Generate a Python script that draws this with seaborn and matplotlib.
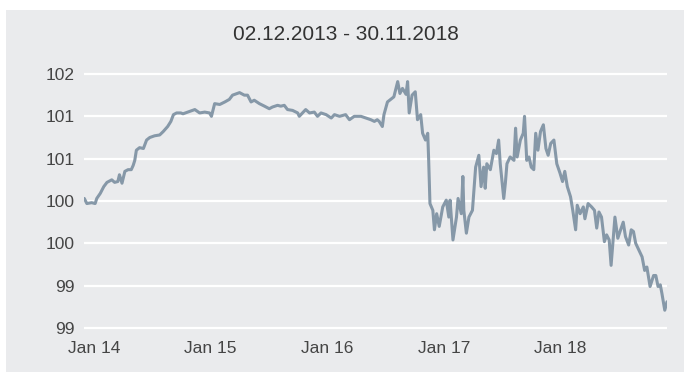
import matplotlib
matplotlib.use('Agg')
import matplotlib.pyplot as plt
from matplotlib.patches import Rectangle
import seaborn as sns
import pandas as pd

# values
dates = [
    '2013-12-02', '2013-12-10', '2013-12-25', '2014-01-05', '2014-01-10', '2014-01-21', '2014-02-01', '2014-02-11', '2014-02-26', '2014-03-07',
    '2014-03-17', '2014-03-22', '2014-03-30', '2014-04-08', '2014-04-18', '2014-04-28', '2014-05-04', '2014-05-09', '2014-05-14', '2014-05-24',
    '2014-06-05', '2014-06-15', '2014-06-25', '2014-07-10', '2014-07-26', '2014-08-06', '2014-08-20', '2014-08-30', '2014-09-07', '2014-09-17',
    '2014-09-30', '2014-10-07', '2014-10-22', '2014-11-13', '2014-11-28', '2014-12-14', '2014-12-29', '2015-01-04', '2015-01-14', '2015-01-30',
    '2015-02-15', '2015-03-01', '2015-03-11', '2015-03-26', '2015-04-02', '2015-04-17', '2015-04-27', '2015-05-08', '2015-05-18', '2015-06-03',
    '2015-06-19', '2015-07-04', '2015-07-14', '2015-07-30', '2015-08-09', '2015-08-20', '2015-08-30', '2015-09-15', '2015-10-01', '2015-10-06',
    '2015-10-16', '2015-10-26', '2015-11-07', '2015-11-22', '2015-12-02', '2015-12-13', '2015-12-29', '2016-01-14', '2016-01-24', '2016-02-09',
    '2016-02-28', '2016-03-11', '2016-03-26', '2016-04-16', '2016-05-02', '2016-05-17', '2016-05-28', '2016-06-06', '2016-06-12', '2016-06-22',
    '2016-06-27', '2016-07-08', '2016-07-18', '2016-07-28', '2016-08-09', '2016-08-16', '2016-08-24', '2016-09-04', '2016-09-09', '2016-09-14',
    '2016-09-23', '2016-10-03', '2016-10-10', '2016-10-20', '2016-10-26', '2016-11-04', '2016-11-11', '2016-11-14', '2016-11-18', '2016-11-27',
    '2016-12-02', '2016-12-09', '2016-12-17', '2016-12-28', '2017-01-08', '2017-01-16', '2017-01-20', '2017-01-29', '2017-02-09', '2017-02-14',
    '2017-02-24', '2017-03-01', '2017-03-04', '2017-03-12', '2017-03-20', '2017-03-31', '2017-04-10', '2017-04-20', '2017-04-27', '2017-05-05',
    '2017-05-10', '2017-05-15', '2017-05-26', '2017-06-06', '2017-06-14', '2017-06-21', '2017-06-26', '2017-07-02', '2017-07-07', '2017-07-12',
    '2017-07-17', '2017-07-27', '2017-08-08', '2017-08-13', '2017-08-18', '2017-08-28', '2017-09-06', '2017-09-10', '2017-09-17', '2017-09-24',
    '2017-10-01', '2017-10-09', '2017-10-15', '2017-10-22', '2017-10-30', '2017-11-08', '2017-11-16', '2017-11-23', '2017-12-01', '2017-12-11',
    '2017-12-20', '2017-12-30', '2018-01-07', '2018-01-14', '2018-01-22', '2018-02-01', '2018-02-08', '2018-02-17', '2018-02-22', '2018-03-03',
    '2018-03-13', '2018-03-18', '2018-03-28', '2018-04-08', '2018-04-17', '2018-04-24', '2018-05-01', '2018-05-09', '2018-05-18', '2018-05-25',
    '2018-06-02', '2018-06-08', '2018-06-15', '2018-06-20', '2018-06-29', '2018-07-06', '2018-07-16', '2018-07-23', '2018-08-02', '2018-08-10',
    '2018-08-17', '2018-08-24', '2018-09-03', '2018-09-13', '2018-09-21', '2018-09-28', '2018-10-08', '2018-10-19', '2018-10-26', '2018-11-02',
    '2018-11-09', '2018-11-14', '2018-11-23', '2018-11-30']

values = [
    100.53, 100.47, 100.48, 100.47, 100.53, 100.59, 100.67, 100.72, 100.75, 100.72,
    100.73, 100.81, 100.71, 100.85, 100.87, 100.87, 100.92, 100.98, 101.10, 101.13,
    101.12, 101.22, 101.25, 101.27, 101.28, 101.32, 101.38, 101.44, 101.52, 101.54,
    101.54, 101.53, 101.55, 101.58, 101.54, 101.55, 101.54, 101.50, 101.65, 101.64,
    101.67, 101.70, 101.75, 101.77, 101.78, 101.75, 101.75, 101.67, 101.69, 101.65,
    101.62, 101.59, 101.61, 101.63, 101.62, 101.63, 101.58, 101.57, 101.54, 101.50,
    101.54, 101.58, 101.54, 101.55, 101.50, 101.54, 101.52, 101.48, 101.52, 101.50,
    101.52, 101.46, 101.50, 101.50, 101.48, 101.46, 101.44, 101.46, 101.44, 101.38,
    101.52, 101.67, 101.70, 101.73, 101.91, 101.77, 101.83, 101.76, 101.91, 101.54,
    101.75, 101.79, 101.46, 101.52, 101.30, 101.22, 101.30, 100.98, 100.47, 100.39,
    100.16, 100.35, 100.20, 100.43, 100.51, 100.31, 100.51, 100.04, 100.31, 100.53,
    100.35, 100.79, 100.39, 100.12, 100.31, 100.39, 100.90, 101.04, 100.67, 100.90,
    100.65, 100.94, 100.87, 101.10, 101.06, 101.22, 100.94, 100.71, 100.53, 100.71,
    100.94, 101.02, 100.98, 101.36, 101.02, 101.22, 101.30, 101.50, 100.98, 101.02,
    100.90, 100.87, 101.30, 101.10, 101.32, 101.40, 101.12, 101.04, 101.18, 101.22,
    100.94, 100.83, 100.73, 100.85, 100.67, 100.55, 100.39, 100.16, 100.45, 100.35,
    100.43, 100.29, 100.47, 100.43, 100.39, 100.18, 100.37, 100.31, 100.02, 100.10,
    100.04, 99.74, 100.08, 100.31, 100.06, 100.14, 100.25, 100.08, 99.98, 100.16,
    100.14, 100.00, 99.92, 99.84, 99.68, 99.72, 99.49, 99.62, 99.62, 99.49,
    99.51, 99.41, 99.21, 99.31]

y_ticks = [99, 99.5, 100, 100.5, 101, 101.5, 102]
y_labels = ['99', '99', '100', '100', '101', '101', '102']
x_ticks = ['2014-01-01', '2015-01-01', '2016-01-01', '2017-01-01', '2018-01-01']
x_labels = ['Jan 14', 'Jan 15', 'Jan 16', 'Jan 17', 'Jan 18']
title = '02.12.2013 - 30.11.2018'

panel = '#eaebed'
line_color = '#8698a8'
text_color = '#454545'

sns.set_style('white')
plt.rcParams['font.family'] = ['Liberation Sans', 'DejaVu Sans']

df = pd.DataFrame({'date': pd.to_datetime(dates), 'value': values})

W, H = 684, 372
fig = plt.figure(figsize=(W / 100, H / 100), dpi=100)
# grey panel behind everything (white strip left and on top)
fig.patches.append(Rectangle((6 / W, 0), 1, 1 - 10 / H, transform=fig.transFigure,
                             facecolor=panel, edgecolor='none', zorder=-10))

# axes spans the 99..102 grid lines (slightly padded so the edge lines are not clipped)
ax = fig.add_axes([84.3 / W, 1 - 329.7 / H, (667 - 84.3) / W, (329.7 - 72.3) / H])
ax.set_facecolor('none')
ax.set_zorder(1)

sns.lineplot(data=df, x='date', y='value', ax=ax, color=line_color, linewidth=2.2)

ax.set_xlim(df['date'].iloc[0], df['date'].iloc[-1])
ax.set_ylim(98.98, 102.02)
ax.set_yticks(y_ticks, y_labels)
ax.set_xticks(pd.to_datetime(x_ticks), x_labels)
ax.grid(axis='y', color='white', linewidth=1.6)
ax.grid(axis='x', visible=False)
ax.set_axisbelow(True)
for s in ax.spines.values():
    s.set_visible(False)
ax.tick_params(length=0, labelsize=12.5, colors=text_color)
ax.tick_params(axis='y', pad=7)
ax.tick_params(axis='x', pad=8)
ax.set_xlabel('')
ax.set_ylabel('')

fig.text(346 / W, 1 - 35 / H, title, ha='center', va='center', fontsize=15, color='#333333')

fig.savefig('out.png', dpi=100)
